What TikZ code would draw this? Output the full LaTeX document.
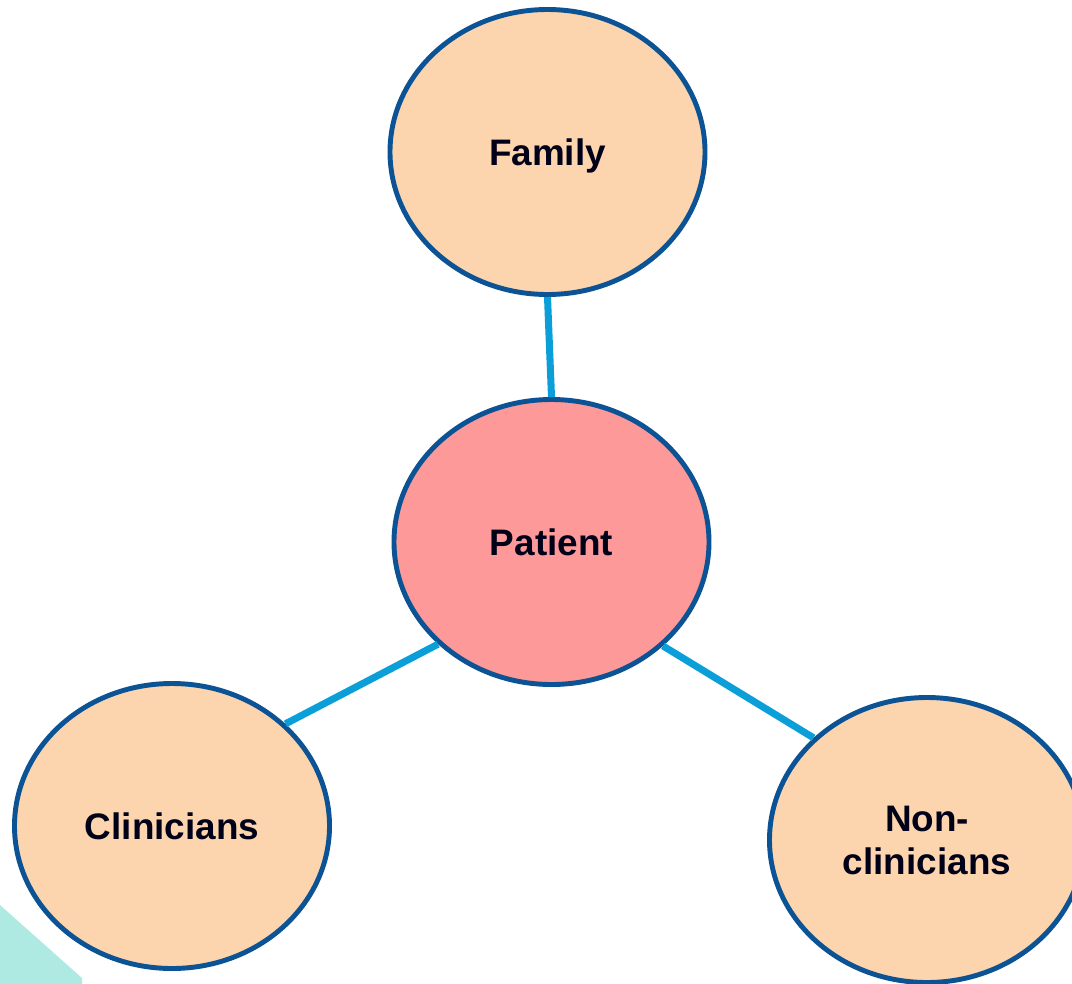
\documentclass[tikz,border=0pt]{standalone}
\usepackage{fontspec}
\setmainfont{Liberation Sans}
\usetikzlibrary{shapes.geometric}
\definecolor{rimblue}{HTML}{0B5394}
\definecolor{peach}{HTML}{FCD5AE}
\definecolor{rose}{HTML}{FD9999}
\definecolor{linkcyan}{HTML}{0A9FD8}
\definecolor{mint}{HTML}{AEEAE2}

\begin{document}
\begin{tikzpicture}[x=0.02cm, y=-0.02cm,
    party/.style={ellipse, draw=rimblue, line width=2.8pt, fill=peach,
      minimum width=315*0.02cm, minimum height=285*0.02cm, inner sep=0pt,
      align=center, text=black!90!blue, text depth=0pt,
      font=\fontsize{21}{24.5}\selectfont\bfseries},
    link/.style={draw=linkcyan, line width=4pt}]
  \useasboundingbox (0,0) rectangle (1072,984);
  \clip (0,0) rectangle (1072,984);
  \fill[mint] (0,905) -- (82,978) -- (82,984) -- (0,984) -- cycle;
  \node[party] (fam) at (547.5,152) {Family};
  \node[party, fill=rose] (pat) at (551.5,542) {Patient};
  \node[party] (cli) at (172,826) {Clinicians};
  \node[party] (noncli) at (927,840) {Non-\\clinicians};
  \draw[link] (fam.south) -- (pat.north);
  \draw[link] (pat.222) -- (cli.42);
  \draw[link] (pat.317) -- (noncli.138);
\end{tikzpicture}
\end{document}
